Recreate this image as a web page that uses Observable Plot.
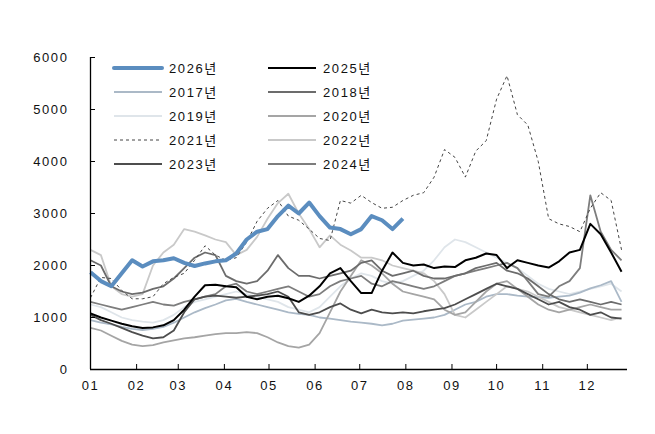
<!DOCTYPE html>
<html>
<head>
<meta charset="utf-8">
<script src="https://cdn.jsdelivr.net/npm/d3@7"></script>
<script src="https://cdn.jsdelivr.net/npm/@observablehq/plot@0.6"></script>
<style>
  html, body { margin: 0; padding: 0; background: #fff; }
  #chart { width: 655px; height: 434px; }
</style>
</head>
<body>
<div id="chart"></div>
<script>
// ---- data (weekly readings, week 0 = Jan 1) ----
const yTicks = [0, 1000, 2000, 3000, 4000, 5000, 6000];
const monthLabels = ["01","02","03","04","05","06","07","08","09","10","11","12"];
const years = ["2026","2025","2017","2018","2019","2020","2021","2022","2023","2024"];

const y2026 = [1870,1700,1600,1850,2100,1980,2080,2100,2140,2050,1990,2040,2080,2100,2230,2500,2650,2700,2950,3150,3000,3210,2950,2730,2700,2600,2700,2950,2870,2700,2900];
const y2025 = [1080,1000,940,880,830,800,810,850,950,1150,1400,1620,1630,1600,1580,1400,1350,1400,1420,1370,1300,1420,1600,1850,1950,1700,1470,1470,1900,2250,2050,2000,2020,1950,1980,1970,2100,2150,2230,2200,1950,2100,2050,2000,1960,2080,2250,2300,2800,2600,2250,1880];
const y2017 = [950,900,870,820,780,760,780,820,900,1000,1100,1180,1250,1330,1360,1300,1250,1200,1150,1100,1070,1050,1000,980,950,920,900,880,850,880,940,960,980,1000,1050,1150,1250,1300,1400,1450,1450,1420,1400,1390,1380,1400,1420,1480,1560,1620,1700,1300];
const y2018 = [2100,2000,1600,1500,1450,1480,1550,1600,1750,1950,2150,2250,2200,1800,1700,1650,1700,1900,2200,1950,1800,1800,1750,1800,1850,1900,2050,2100,1900,1800,1850,1900,1800,1750,1750,1800,1850,1950,2000,2050,1900,1850,1750,1600,1450,1350,1300,1350,1300,1250,1300,1250];
const y2019 = [1250,1200,1100,1000,950,920,900,950,1050,1200,1300,1350,1400,1450,1500,1450,1400,1350,1300,1200,1150,1100,1200,1400,1600,1750,1850,1800,1700,1650,1700,1800,1900,2100,2350,2500,2450,2350,2250,2150,2050,1950,1800,1650,1550,1500,1450,1500,1550,1600,1650,1500];
const y2020 = [800,750,650,550,480,450,470,520,560,600,620,650,680,700,700,720,700,620,520,450,420,480,700,1100,1500,1800,2100,2000,1850,1650,1500,1450,1400,1350,1150,1050,1100,1300,1500,1650,1700,1550,1400,1250,1150,1100,1150,1200,1250,1200,1150,1150];
const y2021 = [1380,1770,1750,1520,1360,1360,1400,1650,1770,1850,2100,2380,2200,2100,2150,2450,2850,3100,3250,2950,2870,2700,2520,2480,3250,3200,3350,3210,3100,3120,3250,3350,3400,3700,4230,4080,3700,4200,4400,5200,5650,4900,4700,4000,2900,2800,2750,2650,3100,3400,3250,2300];
const y2022 = [2300,2200,1600,1450,1400,1450,2000,2250,2400,2700,2650,2580,2500,2450,2200,2300,2550,2900,3200,3380,3000,2700,2350,2580,2400,2290,2150,2150,2100,2000,1950,1900,1850,1700,1450,1050,1000,1150,1300,1450,1600,1550,1500,1400,1300,1200,1150,1100,1050,1000,950,1000];
const y2023 = [1050,950,880,800,720,650,600,620,750,1100,1350,1400,1420,1400,1380,1400,1420,1450,1500,1400,1100,1050,1100,1200,1270,1150,1080,1150,1100,1080,1100,1080,1120,1150,1180,1250,1350,1450,1550,1650,1600,1550,1450,1350,1250,1300,1200,1150,1050,1100,1000,980];
const y2024 = [1300,1250,1200,1150,1200,1250,1300,1250,1230,1300,1350,1400,1450,1600,1650,1500,1450,1500,1550,1600,1500,1400,1450,1600,1700,1750,1800,1650,1600,1700,1650,1600,1550,1600,1700,1800,1850,1900,1950,2000,2050,1950,1700,1450,1400,1600,1700,1950,3350,2650,2300,2100];

// ---- build ----
const DAY = 864e5;
const xStart = Date.UTC(2001, 0, 1);
const xEnd = Date.UTC(2001, 11, 28);
const monthTicks = monthLabels.map((m, i) => new Date(Date.UTC(2001, i, 1)));
const toRows = (vals) => vals.map((v, i) => ({date: new Date(xStart + i * 7 * DAY), value: v}));

const styles = {
  "2017": {stroke: "#abb9c7", width: 1.8},
  "2018": {stroke: "#6c6c6c", width: 1.8},
  "2019": {stroke: "#dfe5ea", width: 1.8},
  "2020": {stroke: "#a5a5a5", width: 1.8},
  "2021": {stroke: "#444444", width: 1, dash: "3,3"},
  "2022": {stroke: "#c9c9c9", width: 1.8},
  "2023": {stroke: "#4d4d4d", width: 1.8},
  "2024": {stroke: "#7d7d7d", width: 1.8},
  "2025": {stroke: "#000000", width: 2},
  "2026": {stroke: "#5b8dbf", width: 4}
};
const seriesData = {
  "2017": y2017, "2018": y2018, "2019": y2019, "2020": y2020, "2021": y2021,
  "2022": y2022, "2023": y2023, "2024": y2024, "2025": y2025, "2026": y2026
};
const drawOrder = ["2019","2017","2022","2020","2024","2018","2023","2021","2025","2026"];

const W = 655, H = 434, mL = 90, mR = 28, mT = 57, mB = 65;
const innerW = W - mL - mR, innerH = H - mT - mB;
const FONT = "'Liberation Sans', 'Noto Sans CJK KR', sans-serif";

const lineMarks = drawOrder.map(y => {
  const s = styles[y];
  return Plot.line(toRows(seriesData[y]), {
    x: "date", y: "value", stroke: s.stroke, strokeWidth: s.width,
    strokeDasharray: s.dash || null, strokeLinejoin: "round", strokeLinecap: "butt", curve: "linear"
  });
});

const chart = Plot.plot({
  width: W, height: H,
  marginLeft: mL, marginRight: mR, marginTop: mT, marginBottom: mB,
  style: {fontFamily: FONT, fontSize: "13px", color: "#000", background: "#fff", letterSpacing: "1.6px"},
  x: {type: "utc", domain: [new Date(xStart), new Date(xEnd)]},
  y: {domain: [0, 6000]},
  marks: [
    ...lineMarks,
    Plot.ruleX([new Date(xStart)], {stroke: "#000", strokeWidth: 1.3}),
    Plot.ruleY([0], {stroke: "#000", strokeWidth: 1.3}),
    Plot.tickY(yTicks, {y: d => d, stroke: "#000", strokeWidth: 1, insetRight: innerW - 5}),
    Plot.tickX(monthTicks, {x: d => d, stroke: "#000", strokeWidth: 1, insetTop: innerH - 5}),
    Plot.axisY({ticks: yTicks, tickSize: 0, tickPadding: 22, label: null, tickFormat: d => String(d), fill: "#111"}),
    Plot.axisX({ticks: monthTicks, tickSize: 0, tickPadding: 11, label: null,
      tickFormat: (d) => monthLabels[d.getUTCMonth()], fill: "#111"})
  ]
});
document.getElementById("chart").appendChild(chart);

// ---- legend inside plot ----
const legendLayout = [["2026","2025"],["2017","2018"],["2019","2020"],["2021","2022"],["2023","2024"]];
const svg = d3.select(chart);
const lg = svg.append("g").attr("font-family", FONT).attr("font-size", "13px")
  .attr("letter-spacing", "1.6px").attr("text-anchor", "start");
legendLayout.forEach((row, r) => {
  row.forEach((yr, c) => {
    const s = styles[yr];
    const x0 = c === 0 ? 114 : 268;
    const yy = 68 + r * 24;
    lg.append("line").attr("x1", x0).attr("x2", x0 + 48).attr("y1", yy).attr("y2", yy)
      .attr("stroke", s.stroke).attr("stroke-width", s.width)
      .attr("stroke-dasharray", s.dash || null)
      .attr("stroke-linecap", yr === "2026" ? "round" : "butt");
    lg.append("text").attr("x", x0 + 55).attr("y", yy).attr("dy", "0.36em")
      .attr("text-anchor", "start").attr("fill", "#111").text(yr + "년");
  });
});
</script>
</body>
</html>
